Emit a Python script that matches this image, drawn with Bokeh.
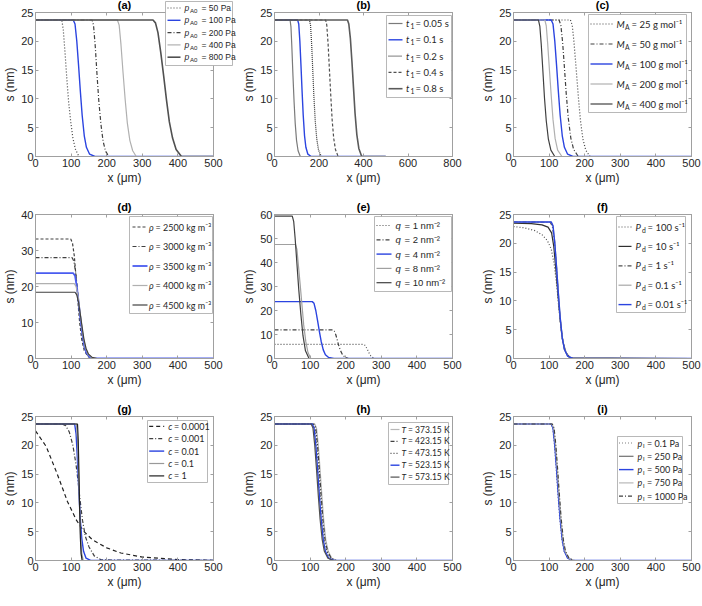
from bokeh.plotting import figure
from bokeh.layouts import row, column
from bokeh.models import Range1d, LinearAxis, FixedTicker
from bokeh.core.properties import value
from bokeh.embed import file_html
from bokeh.resources import INLINE

# ---------------- data ----------------
base_x = [0, 106, 111, 116, 121, 126, 131, 137, 143, 152, 167, 500]
base_s = [23.7, 23.7, 23.0, 20.0, 15.8, 11.3, 7.2, 3.6, 1.6, 0.4, 0.0, 0.0]

# (a) p_A0
a_x = [[0, 74, 78, 83, 88, 93, 99, 105, 112, 122, 500],
       base_x,
       [0, 159, 163, 168, 173, 178, 184, 190, 197, 206, 500],
       [0, 230, 235, 240, 246, 252, 258, 265, 273, 283, 500],
       [0, 330, 337, 344, 352, 360, 368, 376, 385, 395, 410, 500]]
a_s = [[23.7, 23.7, 22.0, 18.0, 13.5, 9.5, 6.0, 3.2, 1.3, 0, 0],
       base_s,
       [23.7, 23.7, 22.8, 19.0, 14.0, 9.5, 5.5, 2.6, 0.9, 0, 0],
       [23.7, 23.7, 22.8, 19.5, 14.5, 9.8, 5.8, 2.8, 1.0, 0, 0],
       [23.7, 23.7, 23.2, 21.5, 18.0, 14.0, 9.8, 6.0, 3.2, 1.2, 0, 0]]
# (b) t1
b_x = [[0, 70, 74, 78, 83, 88, 93, 99, 106, 116, 500],
       [0, 104, 109, 114, 119, 124, 129, 135, 141, 150, 165, 500],
       [0, 157, 162, 167, 172, 177, 183, 190, 198, 210, 500],
       [0, 230, 235, 241, 247, 253, 259, 266, 274, 286, 500],
       [0, 328, 334, 341, 348, 355, 362, 370, 379, 392, 500]]
b_s = [[23.7, 23.7, 22.5, 19.0, 14.0, 9.5, 5.8, 2.8, 1.0, 0, 0],
       base_s,
       [23.7, 23.7, 22.8, 19.5, 15.0, 10.5, 6.2, 3.0, 1.1, 0, 0],
       [23.7, 23.7, 22.8, 19.5, 15.0, 10.5, 6.4, 3.2, 1.2, 0, 0],
       [23.7, 23.7, 23.0, 20.5, 16.5, 12.0, 7.5, 3.8, 1.4, 0, 0]]
# (c) M_A
c_x = [[0, 160, 165, 170, 176, 182, 188, 195, 203, 215, 500],
       [0, 128, 133, 138, 143, 148, 154, 161, 169, 182, 500],
       base_x,
       [0, 88, 92, 96, 101, 106, 111, 117, 124, 136, 500],
       [0, 70, 74, 78, 82, 87, 92, 98, 105, 116, 500]]
c_s = [[23.7, 23.7, 22.8, 19.8, 15.2, 10.5, 6.3, 3.0, 1.1, 0, 0],
       [23.7, 23.7, 22.8, 19.8, 15.5, 11.0, 6.6, 3.2, 1.2, 0, 0],
       base_s,
       [23.7, 23.7, 22.7, 19.6, 15.0, 10.5, 6.4, 3.1, 1.1, 0, 0],
       [23.7, 23.7, 22.6, 19.4, 15.4, 10.2, 6.2, 3.0, 1.1, 0, 0]]
# (d) rho
d_x = [[0, 99, 104, 109, 114, 119, 124, 130, 137, 148, 163, 500],
       [0, 103, 108, 113, 118, 123, 128, 134, 141, 151, 165, 500],
       base_x,
       [0, 109, 114, 119, 124, 129, 134, 140, 147, 157, 171, 500],
       [0, 111, 116, 121, 126, 131, 136, 142, 149, 159, 173, 500]]
d_s = [[33.2, 33.2, 32.0, 28.5, 22.5, 16.0, 10.0, 5.2, 2.2, 0.5, 0, 0],
       [28.0, 28.0, 27.0, 23.8, 19.0, 13.5, 8.5, 4.4, 1.8, 0.4, 0, 0],
       base_s,
       [20.8, 20.8, 20.0, 17.5, 13.8, 9.8, 6.1, 3.1, 1.3, 0.3, 0, 0],
       [18.4, 18.4, 17.7, 15.5, 12.2, 8.7, 5.4, 2.8, 1.2, 0.3, 0, 0]]
# (e) q
e_x = [[0, 250, 254, 258, 262, 266, 270, 275, 282, 500],
       [0, 164, 168, 172, 176, 180, 185, 191, 198, 208, 500],
       base_x,
       [0, 59, 63, 67, 72, 77, 82, 88, 94, 102, 500],
       [0, 50, 54, 58, 63, 68, 74, 80, 87, 97, 500]]
e_s = [[5.9, 5.9, 5.5, 4.6, 3.4, 2.2, 1.2, 0.5, 0, 0],
       [11.9, 11.9, 11.4, 10.0, 7.9, 5.6, 3.4, 1.6, 0.5, 0, 0],
       base_s,
       [47.5, 47.5, 45.5, 39.0, 31.0, 22.5, 14.0, 7.0, 2.5, 0, 0],
       [59.3, 59.3, 57.0, 50.0, 39.5, 29.0, 18.5, 9.5, 3.2, 0, 0]]
# (f) P_d
f_x = [[0, 30, 60, 80, 95, 106, 114, 121, 127, 133, 140, 149, 163, 500],
       [0, 50, 80, 97, 107, 113, 119, 125, 131, 138, 146, 158, 500],
       [0, 103, 109, 115, 120, 125, 130, 136, 143, 153, 168, 500],
       [0, 106, 111, 116, 121, 126, 131, 137, 143, 153, 168, 500],
       base_x]
f_s = [[22.9, 22.7, 22.2, 21.5, 20.5, 19.0, 16.5, 13.0, 9.0, 5.5, 2.6, 0.8, 0, 0],
       [23.5, 23.4, 23.2, 22.8, 21.8, 19.5, 15.5, 11.0, 6.8, 3.2, 1.2, 0.1, 0],
       [23.7, 23.65, 23.0, 20.5, 16.5, 12.0, 7.6, 3.8, 1.6, 0.4, 0, 0],
       [23.7, 23.7, 23.1, 20.2, 16.0, 11.5, 7.3, 3.7, 1.6, 0.4, 0, 0],
       base_s]
# (g) c
g_x = [[0, 30, 60, 90, 115, 135, 160, 200, 240, 300, 400, 500],
       [0, 75, 85, 95, 105, 114, 120, 125, 132, 140, 150, 165, 185, 500],
       [0, 110, 114, 117, 120, 123, 126, 130, 135, 142, 155, 500],
       [0, 115, 118, 121, 124, 127, 130, 134, 500],
       [0, 118, 120, 122, 124, 126, 128, 131, 500]]
g_s = [[22.5, 19.8, 15.2, 10.2, 7.0, 5.1, 3.6, 2.2, 1.3, 0.6, 0.15, 0.04],
       [23.7, 23.7, 23.4, 22.3, 20.0, 16.6, 13.5, 10.6, 7.0, 4.2, 2.4, 0.8, 0.1, 0],
       [23.7, 23.7, 22.0, 18.5, 14.5, 10.5, 7.0, 3.8, 1.6, 0.4, 0, 0],
       [23.7, 23.7, 21.0, 15.0, 8.5, 3.8, 1.2, 0, 0],
       [23.7, 23.7, 21.0, 15.5, 9.0, 4.0, 1.2, 0, 0]]
# (h) T
h_x = [[0, 113, 118, 123, 128, 133, 138, 144, 151, 161, 175, 500],
       [0, 111, 116, 121, 126, 131, 136, 142, 149, 159, 173, 500],
       [0, 109, 114, 119, 124, 129, 134, 140, 147, 157, 171, 500],
       base_x,
       [0, 103, 108, 113, 118, 123, 128, 134, 140, 150, 165, 500]]
h_s = [base_s, base_s, base_s, base_s, base_s]
# (i) p_l
i_x = [[0, 105, 110, 115, 120, 125, 130, 136, 142, 152, 167, 500],
       [0, 107, 112, 117, 122, 127, 132, 138, 144, 154, 169, 500],
       base_x,
       [0, 108, 113, 118, 123, 128, 133, 139, 145, 155, 170, 500],
       [0, 109, 114, 119, 124, 129, 134, 140, 146, 156, 171, 500]]
i_s = [base_s, base_s, base_s, base_s, base_s]

ticks_500 = [0, 100, 200, 300, 400, 500]
ticks_800 = [0, 200, 400, 600, 800]
ticks_25 = [0, 5, 10, 15, 20, 25]
ticks_40 = [0, 10, 20, 30, 40]
ticks_60 = [0, 10, 20, 30, 40, 50, 60]

a_leg = ("p", "A0", ["= 50 Pa", "= 100 Pa", "= 200 Pa", "= 400 Pa", "= 800 Pa"])
b_leg = ("t", "1", ["= 0.05 s", "= 0.1 s", "= 0.2 s", "= 0.4 s", "= 0.8 s"])
c_leg = ("M", "A", ["= 25 g mol⁻¹", "= 50 g mol⁻¹", "= 100 g mol⁻¹", "= 200 g mol⁻¹", "= 400 g mol⁻¹"])
d_leg = ("ρ", "", ["= 2500 kg m⁻³", "= 3000 kg m⁻³", "= 3500 kg m⁻³", "= 4000 kg m⁻³", "= 4500 kg m⁻³"])
e_leg = ("q", "", ["= 1 nm⁻²", "= 2 nm⁻²", "= 4 nm⁻²", "= 8 nm⁻²", "= 10 nm⁻²"])
f_leg = ("P", "d", ["= 100 s⁻¹", "= 10 s⁻¹", "= 1 s⁻¹", "= 0.1 s⁻¹", "= 0.01 s⁻¹"])
g_leg = ("c", "", ["= 0.0001", "= 0.001", "= 0.01", "= 0.1", "= 1"])
h_leg = ("T", "", ["= 373.15 K", "= 423.15 K", "= 473.15 K", "= 523.15 K", "= 573.15 K"])
i_leg = ("p", "l", ["= 0.1 Pa", "= 250 Pa", "= 500 Pa", "= 750 Pa", "= 1000 Pa"])

# ---------------- styles ----------------
BLUE = "#2b44e0"
DK = "#404040"
LG = "#b0b0b0"
AX = "#a0a0a0"
TXT = "#262626"
DOT = "1 2"
DD = "4 2 1 2"
DASH = "4 3"


def st(color, dash="solid", w=1.2):
    return dict(color=color, dash=dash, w=w)


a_st = [st(DK, DOT), st(BLUE, w=1.4), st(DK, DD), st(LG), st("#505050", w=1.6)]
b_st = [st("#7a7a7a"), st(BLUE, w=1.4), st("#303030", "1 1"), st("#505050", "3 2"), st("#5a5a5a", w=1.6)]
c_st = [st(DK, DOT), st(DK, DD), st(BLUE, w=1.4), st(LG), st(DK)]
d_st = [st(DK, "3 2"), st(DK, DD), st("#4a5cf0", w=1.8), st(LG), st(DK)]
e_st = [st("#505050", DOT), st(DK, DD), st(BLUE, w=1.4), st("#a0a0a0"), st(DK)]
f_st = [st("#505050", DOT), st("#303030"), st("#505050", DD), st("#a8a8a8"), st(BLUE, w=1.4)]
g_st = [st("#202020", DASH), st(DK, DD), st(BLUE, w=1.4), st("#999999"), st("#202020")]
h_st = [st("#b8b8b8"), st(DK, DD), st(DK, DOT), st(BLUE, w=1.4), st("#505050")]
i_st = [st("#808080", DOT), st("#707070"), st(BLUE, w=1.4), st("#b8b8b8"), st(DK, DD)]

# legend geometry (pixels relative to the frame's right and top edges)
a_lg = dict(rg=-19, tg=-11, bw=67, bh=64, first=6.5, step=12.3, lx0=2, lx1=15, vx=19, sx=24.5, ex=36,
            font="Liberation Sans", fs=8.5)
b_lg = dict(rg=1, tg=3, bw=65, bh=82, first=8, step=16.3, lx0=2, lx1=16, vx=19.5, sx=24, ex=29,
            font="Lato", fs=9.5)
c_lg = dict(rg=5, tg=2, bw=98, bh=98, first=9.5, step=20, lx0=2, lx1=24, vx=28, sx=36.5, ex=43,
            font="Lato", fs=9.5)
d_lg = dict(rg=1, tg=2, bw=83, bh=97, first=10.5, step=19.5, lx0=3, lx1=18, vx=19.5, sx=0, ex=26,
            font="Lato", fs=9)
e_lg = dict(rg=1, tg=2, bw=77, bh=75, first=9, step=14.3, lx0=2, lx1=17, vx=21, sx=0, ex=30,
            font="Liberation Sans", fs=9.5)
f_lg = dict(rg=6, tg=2, bw=69, bh=96, first=10.5, step=19.4, lx0=2, lx1=15, vx=19, sx=25.5, ex=31,
            font="Lato", fs=9.5)
g_lg = dict(rg=6, tg=4, bw=60, bh=62, first=5.8, step=12.4, lx0=1.7, lx1=16.7, vx=20.7, sx=0, ex=26.5,
            font="Lato", fs=9)
h_lg = dict(rg=4, tg=6, bw=60, bh=62, first=7, step=11.9, lx0=2, lx1=11, vx=13, sx=0, ex=19.5,
            font="Lato", fs=8.5)
i_lg = dict(rg=9, tg=20, bw=65, bh=67, first=6.5, step=13.3, lx0=1.5, lx1=16, vx=20, sx=25.5, ex=29.5,
            font="Lato", fs=9)

FW = 178
FH = 144


def make_panel(letter, xr, yr, xticks, yticks, xs, ss, styles, leg, lg, bl=30, br=10, bb=46):
    p = figure(frame_width=FW, frame_height=FH, x_range=Range1d(*xr), y_range=Range1d(*yr),
               output_backend="svg", toolbar_location=None,
               min_border_left=bl, min_border_right=br, min_border_top=12, min_border_bottom=bb,
               outline_line_color=AX, outline_line_width=1,
               background_fill_color="white", border_fill_color="white")
    p.xgrid.visible = False
    p.ygrid.visible = False

    for ax, tk in ((p.xaxis, xticks), (p.yaxis, yticks)):
        ax.ticker = FixedTicker(ticks=tk)
        ax.major_tick_in = 3
        ax.major_tick_out = 0
        ax.minor_tick_line_color = None
        ax.axis_line_color = AX
        ax.major_tick_line_color = AX
        ax.major_label_text_font = "Liberation Sans"
        ax.major_label_text_font_size = "11px"
        ax.major_label_text_color = TXT
        ax.major_label_standoff = 2
        ax.axis_label_text_font = "Liberation Sans"
        ax.axis_label_text_font_size = "12px"
        ax.axis_label_text_font_style = "normal"
        ax.axis_label_text_color = TXT
        ax.axis_label_standoff = 1
    p.xaxis.axis_label = "x (μm)"
    p.yaxis.axis_label = "s (nm)"

    # box ticks on the top and right edges (no labels)
    for loc, tk in (("right", yticks), ("above", xticks)):
        ax2 = LinearAxis(ticker=FixedTicker(ticks=tk), major_tick_in=3, major_tick_out=0,
                         minor_tick_line_color=None, axis_line_color=AX, major_tick_line_color=AX,
                         major_label_text_color=None, major_label_text_font_size="1px",
                         major_label_standoff=0)
        p.add_layout(ax2, loc)

    for x, s, sty in zip(xs, ss, styles):
        p.line(x, s, line_color=sty["color"], line_width=sty["w"], line_dash=sty["dash"])

    dx = (xr[1] - xr[0]) / FW
    dy = (yr[1] - yr[0]) / FH

    def X(px):
        return xr[0] + px * dx

    def Y(py):
        return yr[1] - py * dy

    # panel letter
    p.text([(xr[0] + xr[1]) / 2], [Y(-2)], text=[letter], text_align="center",
           text_baseline="bottom", text_font=value("Liberation Sans"),
           text_font_size=value("11px"), text_font_style="bold", text_color="#000000",
           level="overlay")

    # legend
    var, sub, rests = leg
    bx = FW - lg["rg"] - lg["bw"]
    bt = lg["tg"]
    p.quad(left=[X(bx)], right=[X(bx + lg["bw"])], top=[Y(bt)], bottom=[Y(bt + lg["bh"])],
           fill_color="white", line_color="#a6a6a6", line_width=0.8, level="overlay")
    fs = lg["fs"]
    for i, (rest, sty) in enumerate(zip(rests, styles)):
        yc = bt + lg["first"] + i * lg["step"]
        p.line([X(bx + lg["lx0"]), X(bx + lg["lx1"])], [Y(yc), Y(yc)], line_color=sty["color"],
               line_width=sty["w"], line_dash=sty["dash"], level="overlay")
        p.text([X(bx + lg["vx"])], [Y(yc)], text=[var], text_font=value(lg["font"]),
               text_font_size=value(f"{fs}px"), text_font_style="italic", text_baseline="middle",
               text_color=TXT, level="overlay")
        if sub:
            p.text([X(bx + lg["sx"])], [Y(yc + 2.5)], text=[sub], text_font=value(lg["font"]),
                   text_font_size=value(f"{fs * 0.72:.1f}px"), text_baseline="middle",
                   text_color=TXT, level="overlay")
        p.text([X(bx + lg["ex"])], [Y(yc)], text=[rest], text_font=value(lg["font"]),
               text_font_size=value(f"{fs}px"), text_baseline="middle", text_color=TXT,
               level="overlay")
    return p


pa = make_panel("(a)", (0, 500), (0, 25), ticks_500, ticks_25, a_x, a_s, a_st, a_leg, a_lg, br=26)
pb = make_panel("(b)", (0, 800), (0, 25), ticks_800, ticks_25, b_x, b_s, b_st, b_leg, b_lg, br=26)
pc = make_panel("(c)", (0, 500), (0, 25), ticks_500, ticks_25, c_x, c_s, c_st, c_leg, c_lg, br=12)
pd = make_panel("(d)", (0, 500), (0, 40), ticks_500, ticks_40, d_x, d_s, d_st, d_leg, d_lg, br=26)
pe = make_panel("(e)", (0, 500), (0, 60), ticks_500, ticks_60, e_x, e_s, e_st, e_leg, e_lg, br=26)
pf = make_panel("(f)", (0, 500), (0, 25), ticks_500, ticks_25, f_x, f_s, f_st, f_leg, f_lg, br=12)
pg = make_panel("(g)", (0, 500), (0, 25), ticks_500, ticks_25, g_x, g_s, g_st, g_leg, g_lg, br=26, bb=30)
ph = make_panel("(h)", (0, 500), (0, 25), ticks_500, ticks_25, h_x, h_s, h_st, h_leg, h_lg, br=26, bb=30)
pi = make_panel("(i)", (0, 500), (0, 25), ticks_500, ticks_25, i_x, i_s, i_st, i_leg, i_lg, br=12, bb=30)

layout = column(row(pa, pb, pc), row(pd, pe, pf), row(pg, ph, pi))
open("out.html", "w").write(file_html(layout, INLINE))
